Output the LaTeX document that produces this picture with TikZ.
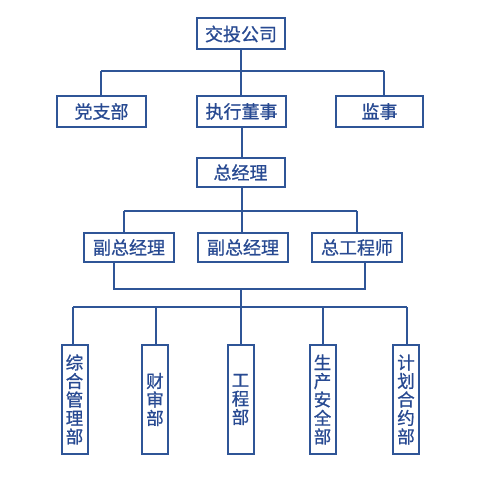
\documentclass[tikz,border=0pt]{standalone}
\usepackage{fontspec}
\newfontfamily\cjk[FakeBold=0.8]{Noto Sans CJK SC}
\definecolor{lncol}{HTML}{2F5597}
\definecolor{txcol}{HTML}{284A92}
\begin{document}
\begin{tikzpicture}[x=1pt,y=-1pt,
  ln/.style={draw=lncol,line width=2pt},
  hbox/.style={draw=lncol,line width=2pt,fill=white,inner sep=0pt,minimum height=31pt,
    font=\cjk\fontsize{18}{18.5}\selectfont,text=txcol},
  vbox/.style={draw=lncol,line width=2pt,fill=white,inner sep=0pt,minimum height=109pt,
    minimum width=26pt,align=center,font=\cjk\fontsize{17.5}{18.5}\selectfont,text=txcol}]
\useasboundingbox (0,0) rectangle (488,492);
\coordinate (b1) at (101,71);
\coordinate (b2) at (384,71);
\coordinate (c1) at (124,211);
\coordinate (c2) at (357,211);
\coordinate (d1) at (114,289);
\coordinate (d2) at (365,289);
\coordinate (dm) at (241,289);
\coordinate (e1) at (73,307);
\coordinate (e2) at (156,307);
\coordinate (e4) at (323,307);
\coordinate (e5) at (407,307);
\node[hbox,minimum width=88pt] (top) at (241,34) {交投公司};
\node[hbox,minimum width=89pt] (dang) at (101.5,111.5) {党支部};
\node[hbox,minimum width=89pt] (ceo) at (241.5,111.5) {执行董事};
\node[hbox,minimum width=87pt] (jian) at (379.5,111.5) {监事};
\node[hbox,minimum width=88pt,minimum height=29pt] (gm) at (240.5,172.5) {总经理};
\node[hbox,minimum width=90pt,minimum height=29pt] (vp1) at (129,247.5) {副总经理};
\node[hbox,minimum width=90pt,minimum height=29pt] (vp2) at (243,247.5) {副总经理};
\node[hbox,minimum width=90pt,minimum height=29pt] (cto) at (357,247.5) {总工程师};
\node[vbox,anchor=north] (dp1) at (74.5,344) {综\\合\\管\\理\\部};
\node[vbox,anchor=north] (dp2) at (155,344) {财\\审\\部};
\node[vbox,anchor=north] (dp3) at (240.5,344) {工\\程\\部};
\node[vbox,anchor=north] (dp4) at (322.5,344) {生\\产\\安\\全\\部};
\node[vbox,anchor=north] (dp5) at (406,344) {计\\划\\合\\约\\部};
\draw[ln] (b1) -- (b2);
\draw[ln] (top.south) -- (top.south |- ceo.north);
\draw[ln] (b1) -- (b1 |- dang.north);
\draw[ln] (b2) -- (b2 |- jian.north);
\draw[ln] (ceo.south -| gm.north) ++(1.5,0) -- ++(0,31);
\draw[ln] (c1) -- (c2);
\draw[ln] (gm.south) ++(1.5,0) -- ++(0,46);
\draw[ln] (c1) -- (c1 |- vp1.north);
\draw[ln] (c2) -- (c2 |- cto.north);
\draw[ln] (d1 |- vp1.south) -- (d1) -- (d2) -- (d2 |- cto.south);
\draw[ln] (dm) -- (dm |- dp3.north);
\draw[ln] (e1) -- (e5);
\draw[ln] (e1) -- (e1 |- dp1.north);
\draw[ln] (e2) -- (e2 |- dp2.north);
\draw[ln] (e4) -- (e4 |- dp4.north);
\draw[ln] (e5) -- (e5 |- dp5.north);
\end{tikzpicture}
\end{document}
